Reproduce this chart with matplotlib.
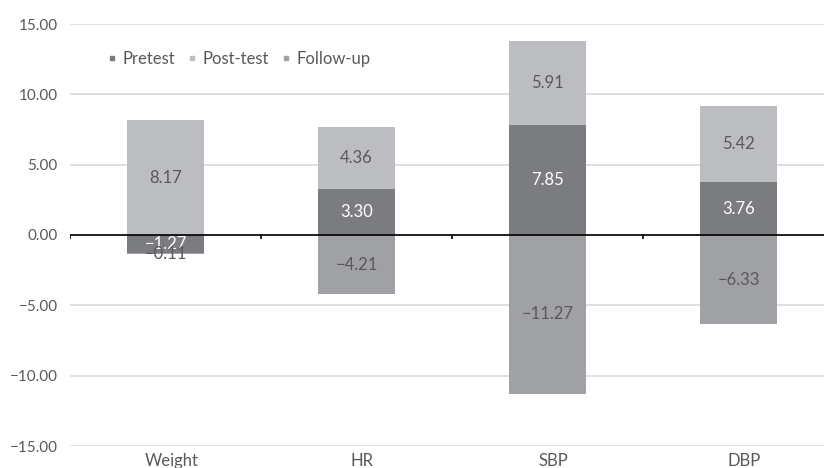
import numpy as np
import matplotlib
matplotlib.use("Agg")
import matplotlib.pyplot as plt
import matplotlib.transforms as mtransforms
from matplotlib.ticker import FuncFormatter
from matplotlib.lines import Line2D

# ----- data -----
categories = ["Weight", "HR", "SBP", "DBP"]
series_names = ["Pretest", "Post-test", "Follow-up"]
pretest = [-1.27, 3.30, 7.85, 3.76]
posttest = [8.17, 4.36, 5.91, 5.42]
followup = [-0.11, -4.21, -11.27, -6.33]
y_ticks = [-15, -10, -5, 0, 5, 10, 15]

colors = ["#7b7c7f", "#bcbdc0", "#a0a1a4"]
label_colors = ["white", "#595959", "#595959"]
TXT = "#595959"

plt.rcParams["font.family"] = ["Lato", "DejaVu Sans"]

fig = plt.figure(figsize=(8.24, 4.68), dpi=100)
# plot area runs a bit past the right edge, like the cropped source
ax = fig.add_axes([70 / 824, 22 / 468, 764 / 824, 422 / 468])

x = np.arange(len(categories))
width = 0.4
pos_base = np.zeros(len(categories))
neg_base = np.zeros(len(categories))

for vals, col, lc in zip([pretest, posttest, followup], colors, label_colors):
    vals = np.asarray(vals, dtype=float)
    bottoms = np.where(vals >= 0, pos_base, neg_base)
    ax.bar(x, vals, width, bottom=bottoms, color=col, zorder=3)
    for xi, b, v in zip(x, bottoms, vals):
        s = f"{v:.2f}".replace("-", "\u2212")
        ax.text(xi, b + v / 2, s, ha="center", va="center",
                color=lc, fontsize=12, zorder=4)
    pos_base = np.where(vals >= 0, pos_base + vals, pos_base)
    neg_base = np.where(vals < 0, neg_base + vals, neg_base)

# axis line at zero with small ticks at category boundaries
ax.axhline(0, color="black", lw=1.2, zorder=5)
ax.vlines(np.r_[-0.5, x[:-1] + 0.5], -0.25, 0, color="black", lw=1.2, zorder=5)

ax.set_xlim(-0.5, len(categories) - 0.5)
ax.set_ylim(-15, 15)
ax.set_yticks(y_ticks)
ax.yaxis.set_major_formatter(FuncFormatter(lambda v, p: f"{v:.2f}".replace("-", "\u2212")))
ax.set_xticks(x, categories)
ax.tick_params(axis="both", length=0, colors=TXT)
ax.tick_params(axis="y", labelsize=11, pad=9)
ax.tick_params(axis="x", labelsize=12, pad=5)
# category labels sit slightly right of the bar centres in the source
shift = mtransforms.ScaledTranslation(6 / 100, 0, fig.dpi_scale_trans)
for lab in ax.get_xticklabels():
    lab.set_transform(lab.get_transform() + shift)
ax.grid(axis="y", color="#d9d9d9", lw=1.2, zorder=0)
for sp in ax.spines.values():
    sp.set_visible(False)

handles = [Line2D([], [], ls="none", marker="s", markersize=3.5,
                  markerfacecolor=c, markeredgecolor=c) for c in colors]
ax.legend(handles, series_names, loc="center left", bbox_to_anchor=(0.03, 0.917),
          ncol=3, frameon=False, handlelength=0.5, handletextpad=0.35,
          columnspacing=0.8, labelcolor=TXT, fontsize=12)

fig.savefig("out.png", dpi=100)
